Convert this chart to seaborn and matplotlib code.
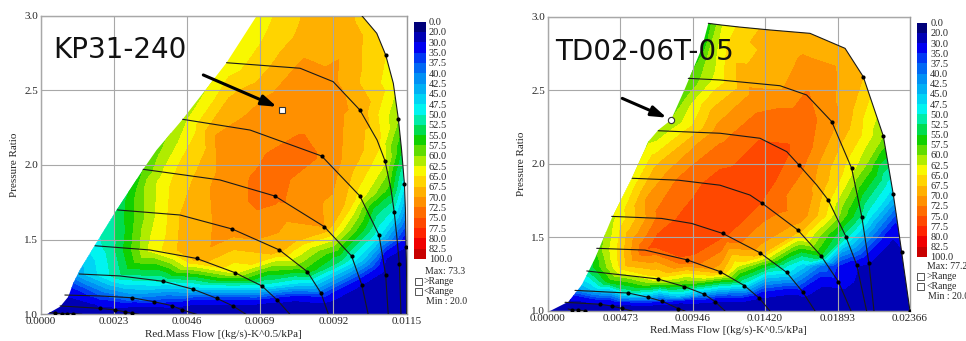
import numpy as np
import matplotlib
matplotlib.use("Agg")
import matplotlib.pyplot as plt
import matplotlib.tri as mtri
from matplotlib.patches import Polygon, Rectangle
import seaborn as sns

###############################################################################
# legend bands (efficiency %) and their colours
###############################################################################
eff_levels = [0, 20, 30, 35, 37.5, 40, 42.5, 45, 47.5, 50, 52.5, 55, 57.5,
              60, 62.5, 65, 67.5, 70, 72.5, 75, 77.5, 80, 82.5, 100]
band_colors = ["#00007a", "#0000b4", "#0000f0", "#0038f4", "#0068f4", "#0090f4",
               "#00b0f4", "#00d4f4", "#00f4f0", "#00eca8", "#00dc50", "#10d000",
               "#60dc00", "#b0ec00", "#f8f800", "#ffd400", "#ffb000", "#ff9000",
               "#ff6c00", "#ff4800", "#ff2400", "#f00000", "#c80000"]

###############################################################################
# KP31-240 map   (flow, pressure ratio, efficiency[, dot])
###############################################################################
kp_xticks = [0.0, 0.0023, 0.0046, 0.0069, 0.0092, 0.0115]
kp_xlabels = ["0.0000", "0.0023", "0.0046", "0.0069", "0.0092", "0.0115"]

kp_surge = [(0.00019, 1.0, 20), (0.00061, 1.051, 25), (0.00087, 1.118, 30),
            (0.00102, 1.208, 37), (0.00123, 1.297, 44), (0.00171, 1.464, 49),
            (0.00239, 1.699, 53), (0.00322, 1.971, 57.5), (0.00364, 2.10, 59),
            (0.00446, 2.306, 61.5), (0.00584, 2.685, 63), (0.00679, 3.0, 63.5)]
kp_top = [(0.0075, 3.0, 65.5), (0.0082, 3.0, 67.5), (0.009, 3.0, 68.5), (0.0097, 3.0, 68)]

kp_n1 = [(0.00029, 1.012, 21, 0), (0.00045, 1.007, 21, 1), (0.00067, 1.005, 21, 1),
         (0.00083, 1.005, 21, 1), (0.00101, 1.004, 21, 1), (0.0013, 1.0, 20, 0)]
kp_n2 = [(0.00061, 1.056, 26, 0), (0.00186, 1.040, 29, 1), (0.00233, 1.029, 28, 1),
         (0.00265, 1.017, 25, 1), (0.00286, 1.007, 22, 1), (0.0031, 1.0, 20, 0)]
kp_n3 = [(0.00076, 1.129, 31, 0), (0.00186, 1.123, 37, 0), (0.00286, 1.111, 40, 1),
         (0.00357, 1.084, 36, 1), (0.00412, 1.058, 32, 1), (0.00445, 1.029, 26, 1),
         (0.0049, 1.0, 20, 0)]
kp_n4 = [(0.00121, 1.27, 44, 0), (0.00249, 1.257, 52, 0), (0.00385, 1.221, 50, 1),
         (0.0048, 1.167, 45, 1), (0.00553, 1.107, 36, 1), (0.00604, 1.056, 28, 1),
         (0.00645, 1.0, 20, 0)]
kp_n5 = [(0.00171, 1.459, 49, 0), (0.00343, 1.431, 63, 0), (0.0049, 1.374, 69, 1),
         (0.0061, 1.279, 63, 1), (0.00695, 1.19, 49, 1), (0.00743, 1.096, 32, 1),
         (0.00783, 1.0, 20, 0)]
kp_n6 = [(0.00241, 1.699, 53, 0), (0.00438, 1.665, 67.5, 0), (0.00602, 1.571, 71.5, 1),
         (0.0075, 1.431, 68.5, 1), (0.00838, 1.285, 56, 1), (0.00881, 1.141, 38, 1),
         (0.00904, 1.0, 20, 0)]
kp_n7 = [(0.00322, 1.971, 57.5, 0), (0.00563, 1.9, 70.8, 0), (0.00736, 1.792, 73.2, 1),
         (0.00891, 1.587, 70, 1), (0.00977, 1.39, 50, 1), (0.01009, 1.196, 30, 1),
         (0.01029, 1.0, 20, 0)]
kp_n8 = [(0.00446, 2.306, 61.5, 0), (0.00658, 2.234, 71.5, 0), (0.00883, 2.06, 72.4, 1),
         (0.01003, 1.792, 64, 1), (0.01063, 1.531, 48, 1), (0.01084, 1.263, 27, 1),
         (0.01092, 1.0, 20, 0)]
kp_n9 = [(0.00584, 2.685, 63, 0), (0.00815, 2.648, 70.5, 0), (0.00919, 2.558, 70.5, 0),
         (0.01003, 2.368, 69.3, 1), (0.01057, 2.167, 66, 0), (0.01082, 2.027, 63, 1),
         (0.01101, 1.833, 56, 0), (0.01111, 1.683, 49, 1), (0.0112, 1.498, 37, 0),
         (0.01127, 1.337, 26, 1), (0.01132, 1.0, 20, 0)]
kp_n10 = [(0.01009, 3.0, 66.5, 0), (0.01056, 2.882, 66, 0), (0.01084, 2.737, 65, 1),
          (0.01108, 2.547, 63.5, 0), (0.01124, 2.306, 60, 1), (0.01134, 2.10, 55, 0),
          (0.01143, 1.871, 48, 1), (0.01146, 1.7, 42, 0), (0.01147, 1.565, 36, 0),
          (0.01148, 1.45, 30, 1), (0.01149, 1.36, 25, 0), (0.0115, 1.2, 21, 0),
          (0.0115, 1.0, 20, 0)]
kp_extra = [(0.0075, 1.95, 73.3), (0.0068, 1.85, 73), (0.0082, 2.15, 72.8),
            (0.0075, 2.45, 71), (0.0085, 2.4, 71.5), (0.006, 2.5, 67),
            (0.0072, 2.85, 65.5), (0.0085, 2.85, 69), (0.0095, 2.85, 69.5),
            (0.004, 1.9, 64.5), (0.0034, 1.88, 61), (0.003, 1.65, 58),
            (0.0036, 1.65, 62.5), (0.0022, 1.43, 51), (0.0028, 1.43, 57),
            (0.0043, 1.43, 67.5), (0.005, 2.2, 66), (0.0055, 2.2, 70),
            (0.0062, 2.0, 71.8),
            (0.008, 1.1, 31), (0.008, 1.2, 46.5), (0.008, 1.33, 60), (0.008, 1.49, 67.5),
            (0.0095, 1.05, 23), (0.0105, 1.15, 25), (0.0112, 1.3, 23),
            (0.0093, 1.7, 69), (0.0097, 1.7, 65), (0.0105, 1.7, 54),
            (0.0094, 2.37, 70.5), (0.0097, 2.03, 69),
            (0.0095, 1.36, 52), (0.0101, 1.36, 45), (0.0106, 1.36, 37), (0.0109, 1.36, 28),
            (0.0015, 1.0, 20), (0.0055, 1.0, 20), (0.0085, 1.0, 20), (0.0105, 1.0, 20)]
kp_marker = (0.00757, 2.368)
kp_arrow = [(0.00511, 2.603), (0.00742, 2.39)]

###############################################################################
# TD02-06T-05 map
###############################################################################
td_xticks = [0.0, 0.004732, 0.009464, 0.014196, 0.018928, 0.02366]
td_xlabels = ["0.00000", "0.00473", "0.00946", "0.01420", "0.01893", "0.02366"]

td_surge = [(0.00015, 1.0, 20), (0.00135, 1.063, 28), (0.00222, 1.177, 45),
            (0.00309, 1.358, 56), (0.00418, 1.63, 61.5), (0.00549, 1.902, 63),
            (0.00657, 2.151, 62), (0.00722, 2.23, 61), (0.00805, 2.298, 60),
            (0.00897, 2.513, 58), (0.01006, 2.785, 55.5)]
td_top = []

td_n1 = [(0.00133, 1.014, 21, 0), (0.00157, 1.007, 21, 1), (0.002, 1.007, 21, 1),
         (0.00244, 1.0, 20, 1)]
td_n2 = [(0.00113, 1.059, 28, 0), (0.00342, 1.046, 30, 1), (0.00418, 1.034, 28, 1),
         (0.00483, 1.018, 24, 1), (0.00552, 1.0, 20, 0)]
td_n3 = [(0.00178, 1.14, 40, 0), (0.00526, 1.122, 50, 1), (0.00657, 1.093, 43, 1),
         (0.00748, 1.066, 35, 1), (0.00853, 1.016, 23, 1), (0.00897, 1.0, 20, 0)]
td_n4 = [(0.00255, 1.272, 52, 0), (0.00718, 1.218, 64, 1), (0.00892, 1.166, 55, 1),
         (0.01023, 1.114, 42, 1), (0.01093, 1.063, 30, 1), (0.01158, 1.0, 20, 0)]
td_n5 = [(0.0032, 1.426, 58, 0), (0.00635, 1.414, 74.6, 0), (0.00908, 1.348, 74.8, 1),
         (0.01125, 1.268, 68.5, 1), (0.01284, 1.173, 48, 1), (0.01382, 1.087, 30, 1),
         (0.01452, 1.0, 20, 0)]
td_n6 = [(0.00418, 1.643, 62, 0), (0.00744, 1.629, 73.8, 0), (0.0094, 1.595, 76.5, 0),
         (0.01143, 1.527, 75.8, 1), (0.01386, 1.396, 69, 1), (0.01561, 1.262, 48, 1),
         (0.01665, 1.13, 33, 1), (0.01746, 1.0, 20, 0)]
td_n7 = [(0.00552, 1.902, 63, 0), (0.00853, 1.889, 72.8, 0), (0.01125, 1.855, 76.5, 0),
         (0.01321, 1.788, 76.8, 0), (0.01401, 1.732, 74.8, 1), (0.01633, 1.551, 69, 1),
         (0.01785, 1.375, 55, 1), (0.01898, 1.2, 33, 1), (0.01981, 1.0, 20, 0)]
td_n8 = [(0.00722, 2.225, 60.5, 0), (0.01125, 2.208, 71.5, 0), (0.01386, 2.174, 74.9, 0),
         (0.01561, 2.083, 75.3, 0), (0.01641, 1.992, 73.5, 1), (0.01757, 1.856, 69.5, 0),
         (0.01832, 1.754, 65.5, 1), (0.01948, 1.505, 51, 1), (0.02018, 1.313, 32, 1),
         (0.02083, 1.0, 20, 0)]
td_n9 = [(0.00918, 2.581, 57.5, 0), (0.01125, 2.570, 64, 0), (0.01517, 2.531, 69.5, 0),
         (0.01691, 2.468, 72.8, 0), (0.01855, 2.287, 71, 1), (0.01985, 1.970, 63.5, 1),
         (0.02051, 1.642, 52, 1), (0.02098, 1.324, 30, 1), (0.02131, 1.0, 20, 0)]
td_n10 = [(0.01049, 2.955, 56, 0), (0.0113, 2.944, 62, 0), (0.0125, 2.93, 65.5, 0),
          (0.0145, 2.91, 68.5, 0), (0.01713, 2.887, 69, 0), (0.01942, 2.785, 69, 0),
          (0.02061, 2.592, 67.5, 1), (0.02192, 2.189, 60, 1), (0.02257, 1.793, 46, 1),
          (0.02277, 1.652, 37, 0), (0.02312, 1.399, 29, 1), (0.02325, 1.3, 23, 0),
          (0.02366, 1.0, 20, 1)]
td_extra = [(0.0105, 1.65, 77.2), (0.0125, 1.85, 77), (0.0085, 1.55, 76.3),
            (0.007, 1.45, 75.8),
            (0.0135, 2.45, 71), (0.0165, 2.7, 70.3), (0.0185, 2.6, 70.5),
            (0.012, 2.75, 66.5), (0.0155, 2.8, 68.5), (0.0165, 2.3, 74),
            (0.0175, 2.3, 72.6), (0.0195, 2.4, 69), (0.0205, 2.2, 65),
            (0.0095, 2.4, 63), (0.0105, 2.4, 66.5), (0.0105, 2.75, 60),
            (0.007, 2.0, 67), (0.0065, 1.75, 70.5), (0.003, 1.3, 55),
            (0.005, 1.3, 67), (0.004, 1.2, 56), (0.003, 1.15, 46),
            (0.0085, 1.2, 60), (0.0085, 1.1, 45), (0.0085, 1.05, 29),
            (0.018, 1.1, 25), (0.022, 1.2, 24), (0.0225, 1.45, 28), (0.016, 1.05, 22),
            (0.0209, 1.99, 59.5), (0.0216, 1.99, 55),
            (0.01669, 1.652, 71), (0.018, 1.652, 66), (0.01942, 1.652, 58),
            (0.02094, 1.652, 49), (0.0215, 1.652, 45.5),
            (0.01234, 1.306, 63), (0.0134, 1.306, 59), (0.01452, 1.306, 54),
            (0.0156, 1.306, 50), (0.01669, 1.306, 46), (0.01778, 1.306, 40),
            (0.0189, 1.306, 35), (0.02, 1.306, 31), (0.021, 1.306, 27),
            (0.003, 1.0, 20), (0.007, 1.0, 20), (0.0125, 1.0, 20), (0.0165, 1.0, 20),
            (0.0225, 1.0, 20)]
td_marker = (0.00805, 2.298)
td_arrow = [(0.00487, 2.445), (0.00777, 2.314)]

###############################################################################
# style
###############################################################################
sns.set_style("white")
plt.rcParams["font.family"] = ["Liberation Serif", "DejaVu Serif"]

fig = plt.figure(figsize=(9.66, 3.41), dpi=100)


def draw_map(ax, cax, xmax, xticks, xlabels, surge, top, lines, outer, extra,
             name, name_xy, marker, marker_style, arrow):
    # all efficiency samples (drop duplicated positions)
    seen = {}
    groups = [surge, top, extra] + lines + [outer]
    for g in groups:
        for p in g:
            key = (round(p[0], 6), round(p[1], 4))
            if key not in seen:
                seen[key] = p[2]
    fl = np.array([k[0] for k in seen])
    pr = np.array([k[1] for k in seen])
    ef = np.array(list(seen.values()))

    # triangulate in normalised space, plot in data space
    t0 = mtri.Triangulation(fl / xmax, (pr - 1.0) / 2.0)
    tri = mtri.Triangulation(fl, pr, triangles=t0.triangles)
    cs = ax.tricontourf(tri, ef, levels=eff_levels, colors=band_colors, zorder=1)

    env_xy = [(p[0], p[1]) for p in surge] + [(p[0], p[1]) for p in top] + \
             [(p[0], p[1]) for p in outer]
    env = Polygon(env_xy, closed=True, transform=ax.transData,
                  facecolor="none", edgecolor="none")
    cs.set_clip_path(env)

    # speed lines
    for line in lines + [outer]:
        sns.lineplot(x=[p[0] for p in line], y=[p[1] for p in line], sort=False,
                     estimator=None, color="#1a1a1a", lw=0.8, ax=ax, zorder=3)
        dots = [p for p in line if p[3]]
        if dots:
            sns.scatterplot(x=[p[0] for p in dots], y=[p[1] for p in dots],
                            color="black", s=9, linewidth=0, ax=ax, zorder=4)

    ax.plot(marker[0], marker[1], marker_style, ms=4.5, mfc="white", mec="#333333",
            mew=0.8, zorder=6)
    ax.annotate("", xy=arrow[1], xytext=arrow[0],
                arrowprops=dict(arrowstyle="-|>,head_length=0.9,head_width=0.3",
                                color="black", lw=2.2, shrinkA=0, shrinkB=0),
                zorder=6)
    ax.text(name_xy[0], name_xy[1], name, fontsize=20, family="DejaVu Sans",
            ha="left", va="center", color="#111111", zorder=6)

    ax.set_xlim(0, xmax)
    ax.set_ylim(1.0, 3.0)
    ax.set_xticks(xticks)
    ax.set_xticklabels(xlabels)
    ax.set_yticks([1.0, 1.5, 2.0, 2.5, 3.0])
    ax.set_yticklabels(["1.0", "1.5", "2.0", "2.5", "3.0"])
    ax.tick_params(length=0, labelsize=8, pad=2)
    ax.set_axisbelow(False)
    ax.grid(True, color="#a8a8a8", lw=0.8)
    for s in ax.spines.values():
        s.set_color("#9a9a9a")
        s.set_linewidth(1.0)
    ax.set_xlabel("Red.Mass Flow [(kg/s)-K^0.5/kPa]", fontsize=8)
    ax.set_ylabel("Pressure Ratio", fontsize=8)
    ax.xaxis.set_label_coords(0.5, -0.05)
    ax.yaxis.set_label_coords(-0.06, 0.5)

    cb = fig.colorbar(cs, cax=cax, ticks=eff_levels, spacing="uniform")
    cax.invert_yaxis()
    cb.ax.set_yticklabels([f"{v:.1f}" for v in eff_levels])
    cax.tick_params(length=0, pad=2, labelsize=7.5)
    cb.outline.set_visible(False)
    return cs


ax1 = fig.add_axes([0.0421, 0.0783, 0.3789, 0.8757])
cax1 = fig.add_axes([0.4286, 0.2405, 0.0124, 0.696])
draw_map(ax1, cax1, 0.0115, kp_xticks, kp_xlabels, kp_surge, kp_top,
         [kp_n1, kp_n2, kp_n3, kp_n4, kp_n5, kp_n6, kp_n7, kp_n8, kp_n9], kp_n10,
         kp_extra, "KP31-240", (0.0004, 2.77), kp_marker, "s", kp_arrow)

ax2 = fig.add_axes([0.567, 0.088, 0.375, 0.863])
cax2 = fig.add_axes([0.949, 0.2472, 0.011, 0.686])
draw_map(ax2, cax2, 0.02366, td_xticks, td_xlabels, td_surge, td_top,
         [td_n1, td_n2, td_n3, td_n4, td_n5, td_n6, td_n7, td_n8, td_n9], td_n10,
         td_extra, "TD02-06T-05", (0.00048, 2.757), td_marker, "o", td_arrow)

# range notes under the colour bars
for (x0, ytop, bx, max_txt) in [(0.440, 0.2032, 0.4296, "Max: 73.3"),
                                 (0.960, 0.2179, 0.9496, "Max: 77.2")]:
    step = 0.0293
    fig.text(x0, ytop, max_txt, fontsize=7, va="center", ha="left")
    for i, lab in enumerate([">Range", "<Range"]):
        yc = ytop - step * (i + 1)
        fig.add_artist(Rectangle((bx, yc - 0.0098), 6.7 / 966, 0.0196,
                                 transform=fig.transFigure, fill=False,
                                 edgecolor="#555555", lw=0.7))
        fig.text(bx + 0.0093, yc, lab, fontsize=7, va="center", ha="left")
    fig.text(x0 + 0.001, ytop - step * 3, "Min : 20.0", fontsize=7, va="center", ha="left")

fig.savefig("out.png", dpi=100)
